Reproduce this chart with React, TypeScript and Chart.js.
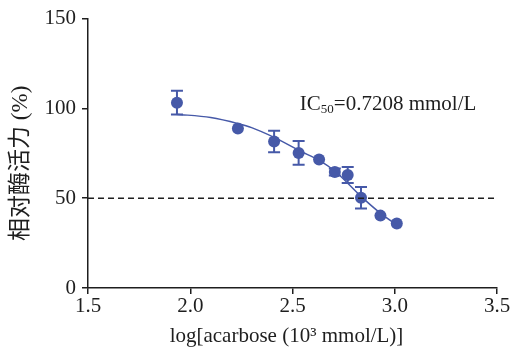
import React, { useEffect, useRef } from "react";
import { Chart, registerables } from "chart.js";

Chart.register(...registerables);

const logConc = [1.935, 2.233, 2.41, 2.53, 2.63, 2.707, 2.77, 2.835, 2.93, 3.01];
const activity = [103.2, 88.8, 81.6, 75.2, 71.6, 64.6, 62.9, 50.3, 40.3, 35.9];
const errors = [6.6, 0, 6.0, 6.6, 0, 2.0, 4.5, 6.0, 0, 0];
const fitX = [1.93, 2.1, 2.235, 2.3, 2.415, 2.537, 2.635, 2.708, 2.835, 2.928, 3.03];
const fitY = [96.8, 94.9, 91.5, 89.3, 83.6, 76.3, 70.8, 65.0, 51.0, 41.8, 33.5];
const xTicks = [1.5, 2.0, 2.5, 3.0, 3.5];
const yTicks = [0, 50, 100, 150];
const refLine = 50;
const labelPos = { x: 2.536, y: 103 };
const yTitle = "相对酶活力 (%)";
const xTitle = "log[acarbose (10³ mmol/L)]";

const BLUE = "#4659a8";
const INK = "#1e1e1e";
const SERIF = "'Liberation Serif', 'Times New Roman', serif";

const errorBarPlugin = {
  id: "errorBars",
  beforeDatasetsDraw(chart: any) {
    const { ctx, scales } = chart;
    const xs = scales.x, ys = scales.y;
    ctx.save();
    ctx.strokeStyle = BLUE;
    ctx.lineWidth = 2;
    logConc.forEach((xv, i) => {
      const e = errors[i];
      if (!e) return;
      const px = xs.getPixelForValue(xv);
      const top = ys.getPixelForValue(activity[i] + e);
      const bot = ys.getPixelForValue(activity[i] - e);
      ctx.beginPath();
      ctx.moveTo(px, top); ctx.lineTo(px, bot);
      ctx.moveTo(px - 6, top); ctx.lineTo(px + 6, top);
      ctx.moveTo(px - 6, bot); ctx.lineTo(px + 6, bot);
      ctx.stroke();
    });
    ctx.restore();
  },
};

const labelPlugin = {
  id: "icLabel",
  afterDatasetsDraw(chart: any) {
    const { ctx, scales, chartArea } = chart;
    const px = scales.x.getPixelForValue(labelPos.x);
    const py = scales.y.getPixelForValue(labelPos.y);
    ctx.save();
    ctx.fillStyle = INK;
    ctx.textBaseline = "alphabetic";
    ctx.textAlign = "left";
    let x = px;
    const base = py + 7;
    ctx.font = `21px ${SERIF}`;
    ctx.fillText("IC", x, base);
    x += ctx.measureText("IC").width;
    ctx.font = `13px ${SERIF}`;
    ctx.fillText("50", x, base + 3);
    x += ctx.measureText("50").width;
    ctx.font = `21px ${SERIF}`;
    ctx.fillText("=0.7208 mmol/L", x, base);

    // x-axis title
    ctx.textAlign = "center";
    ctx.textBaseline = "middle";
    ctx.fillText(xTitle, (chartArea.left + chartArea.right) / 2 - 6, 336);

    // y-axis title
    const cy = (chartArea.top + chartArea.bottom) / 2 + 10;
    ctx.translate(21, cy);
    ctx.rotate(-Math.PI / 2);
    ctx.font = `23px 'Liberation Serif', 'Noto Sans CJK SC', serif`;
    ctx.fillText(yTitle, 0, 0);
    ctx.restore();
  },
};

export default function App() {
  const ref = useRef<HTMLCanvasElement>(null);
  useEffect(() => {
    if (!ref.current) return;
    const chart = new Chart(ref.current, {
      type: "scatter",
      data: {
        datasets: [
          {
            type: "line",
            data: [{ x: 1.5, y: refLine }, { x: 3.5, y: refLine }],
            borderColor: INK,
            borderWidth: 1.5,
            borderDash: [6, 4],
            pointRadius: 0,
            fill: false,
          } as any,
          {
            type: "line",
            data: fitX.map((x, i) => ({ x, y: fitY[i] })),
            borderColor: BLUE,
            borderWidth: 1.5,
            pointRadius: 0,
            cubicInterpolationMode: "monotone",
            fill: false,
          } as any,
          {
            data: logConc.map((x, i) => ({ x, y: activity[i] })),
            backgroundColor: BLUE,
            borderColor: BLUE,
            pointRadius: 6,
            pointBorderWidth: 0,
          },
        ],
      },
      options: {
        responsive: false,
        animation: false,
        layout: { padding: { top: 16, right: 21, left: 0, bottom: 0 } },
        plugins: { legend: { display: false }, tooltip: { enabled: false } },
        scales: {
          x: {
            type: "linear",
            min: 1.5,
            max: 3.5,
            afterBuildTicks: (s: any) => { s.ticks = xTicks.map((v) => ({ value: v })); },
            afterFit: (s: any) => { s.height = 61; },
            ticks: {
              color: INK,
              font: { family: SERIF, size: 21 },
              padding: 0,
              callback: (v: any) => Number(v).toFixed(1),
            },
            grid: { drawOnChartArea: false, drawTicks: true, tickLength: 6, color: INK, lineWidth: 1.5 },
            border: { color: INK, width: 1.5 },
            title: { display: false },
          },
          y: {
            type: "linear",
            min: 0,
            max: 150,
            afterBuildTicks: (s: any) => { s.ticks = yTicks.map((v) => ({ value: v })); },
            afterFit: (s: any) => { s.width = 88; },
            ticks: {
              color: INK,
              font: { family: SERIF, size: 21 },
              padding: 6,
            },
            grid: { drawOnChartArea: false, drawTicks: true, tickLength: 6, color: INK, lineWidth: 1.5 },
            border: { color: INK, width: 1.5 },
            title: { display: false },
          },
        },
      },
      plugins: [errorBarPlugin, labelPlugin],
    });
    return () => chart.destroy();
  }, []);
  return (
    <div style={{ position: "fixed", left: 0, top: 0, width: 518, height: 349, background: "#fff" }}>
      <canvas ref={ref} width={518} height={349} />
    </div>
  );
}
